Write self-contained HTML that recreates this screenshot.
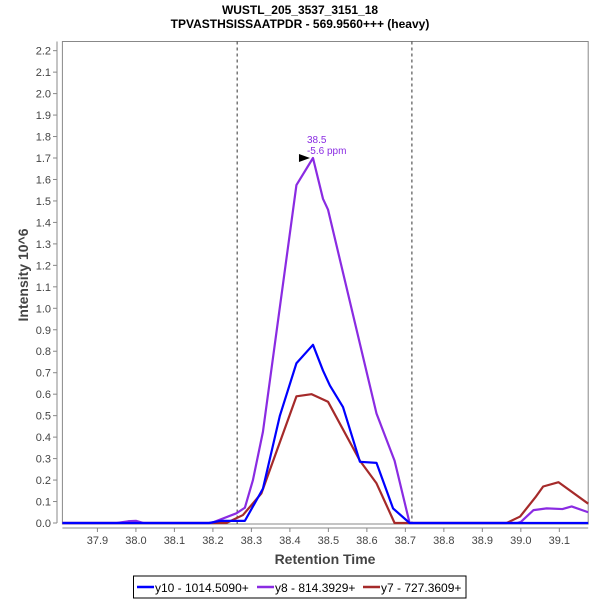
<!DOCTYPE html>
<html><head><meta charset="utf-8"><style>
body{margin:0;background:#fff;}
svg text{font-family:"Liberation Sans",sans-serif;}
</style></head><body>
<svg id="chart" width="600" height="600" xmlns="http://www.w3.org/2000/svg">
<text x="300" y="14" text-anchor="middle" font-size="12" font-weight="bold">WUSTL_205_3537_3151_18</text>
<text x="300" y="28" text-anchor="middle" font-size="12" font-weight="bold">TPVASTHSISSAATPDR - 569.9560+++ (heavy)</text>
<rect x="62.4" y="41.5" width="525.8" height="482.5" fill="#fff" stroke="#888"/>
<g id="axes"></g>
<g id="series"></g>
<text x="0" y="0" transform="translate(28,275) rotate(-90)" text-anchor="middle" font-size="14" font-weight="bold" fill="#444">Intensity 10^6</text>
<text x="325" y="564" text-anchor="middle" font-size="14" font-weight="bold" fill="#444">Retention Time</text>
<g>
<rect x="133.5" y="576" width="332.5" height="22" fill="#fff" stroke="#000"/>
<line x1="137" y1="587" x2="154" y2="587" stroke="#0000ff" stroke-width="2.5"/>
<text x="155" y="592" font-size="12">y10 - 1014.5090+</text>
<line x1="257" y1="587" x2="274" y2="587" stroke="#8a2be2" stroke-width="2.5"/>
<text x="275" y="592" font-size="12">y8 - 814.3929+</text>
<line x1="363" y1="587" x2="380" y2="587" stroke="#a52a2a" stroke-width="2.5"/>
<text x="381" y="592" font-size="12">y7 - 727.3609+</text>
</g>
</svg>
<script>
const xTicks=[37.9,38.0,38.1,38.2,38.3,38.4,38.5,38.6,38.7,38.8,38.9,39.0,39.1];
const yTicks=[0,0.1,0.2,0.3,0.4,0.5,0.6,0.7,0.8,0.9,1.0,1.1,1.2,1.3,1.4,1.5,1.6,1.7,1.8,1.9,2.0,2.1,2.2];
const boundaries=[38.263,38.717];
const y10T=[37.809,38.19,38.22,38.283,38.330,38.374,38.417,38.460,38.486,38.504,38.538,38.582,38.625,38.668,38.711,39.175];
const y10V=[0,0,0.01,0.01,0.16,0.50,0.744,0.83,0.71,0.64,0.54,0.285,0.28,0.068,0,0];
const y8T=[37.809,37.95,37.98,38.0,38.02,38.19,38.20,38.261,38.283,38.304,38.330,38.417,38.460,38.486,38.499,38.625,38.672,38.711,38.99,39.0,39.033,39.067,39.108,39.132,39.175];
const y8V=[0,0,0.008,0.01,0,0,0.003,0.045,0.071,0.20,0.425,1.574,1.70,1.51,1.46,0.51,0.29,0,0,0.005,0.06,0.068,0.065,0.077,0.05];
const y7T=[37.809,38.235,38.278,38.326,38.417,38.456,38.499,38.582,38.625,38.672,38.963,38.998,39.038,39.058,39.098,39.175];
const y7V=[0,0,0.037,0.138,0.59,0.60,0.565,0.29,0.185,0,0,0.03,0.12,0.17,0.19,0.09];
const peakT=38.46, peakV=1.70;
const NS="http://www.w3.org/2000/svg";
const X0=62.4,X1=588.2,T0=37.809,T1=39.175,Yb=523,PerUnit=214.7;
const xs=t=>X0+(t-T0)/(T1-T0)*(X1-X0);
const ys=v=>Yb-v*PerUnit;
function mk(tag,attrs,parent){const e=document.createElementNS(NS,tag);for(const k in attrs)e.setAttribute(k,attrs[k]);parent.appendChild(e);return e;}
const axes=document.getElementById('axes');
mk('line',{x1:X0,y1:528,x2:X1,y2:528,stroke:'#888'},axes);
mk('line',{x1:57,y1:41.5,x2:57,y2:Yb,stroke:'#888'},axes);
xTicks.forEach(t=>{
  const x=xs(t);
  const l=mk('line',{x1:x,y1:528,x2:x,y2:532,stroke:'#888'},axes);
  
  
  const tx=mk('text',{x:x,y:544,'text-anchor':'middle','font-size':11,fill:'#444'},axes);
  tx.textContent=t.toFixed(1);
  
  
});
yTicks.forEach(v=>{
  const y=ys(v);
  const l=mk('line',{x1:53,y1:y,x2:57,y2:y,stroke:'#888'},axes);
  
  
  const tx=mk('text',{x:51,y:y+4,'text-anchor':'end','font-size':11,fill:'#444'},axes);
  tx.textContent=v.toFixed(1);
  
  
});
boundaries.forEach(t=>{
  const l=mk('line',{x1:xs(t),y1:41.5,x2:xs(t),y2:Yb+1,stroke:'#333','stroke-dasharray':'3,3'},axes);
  
  
});
const sg=document.getElementById('series');
function line(T,V,color,name){
  const p=mk('polyline',{points:T.map((t,i)=>xs(t)+','+ys(V[i])).join(' '),fill:'none',stroke:color,'stroke-width':2.2,'stroke-linejoin':'round'},sg);
  
  
}
line(y7T,y7V,'#a52a2a','series-y7');
line(y8T,y8V,'#8a2be2','series-y8');
line(y10T,y10V,'#0000ff','series-y10');
const px=xs(peakT),py=ys(peakV);
const ar=mk('polygon',{points:`${px-3},${py} ${px-14},${py-4} ${px-14},${py+4}`,fill:'#000'},sg);


const a1=mk('text',{x:px-6,y:py-15,'font-size':10,fill:'#8a2be2'},sg);
a1.textContent='38.5';


const a2=mk('text',{x:px-6,y:py-4,'font-size':10,fill:'#8a2be2'},sg);
a2.textContent='-5.6 ppm';


</script>
</body></html>
